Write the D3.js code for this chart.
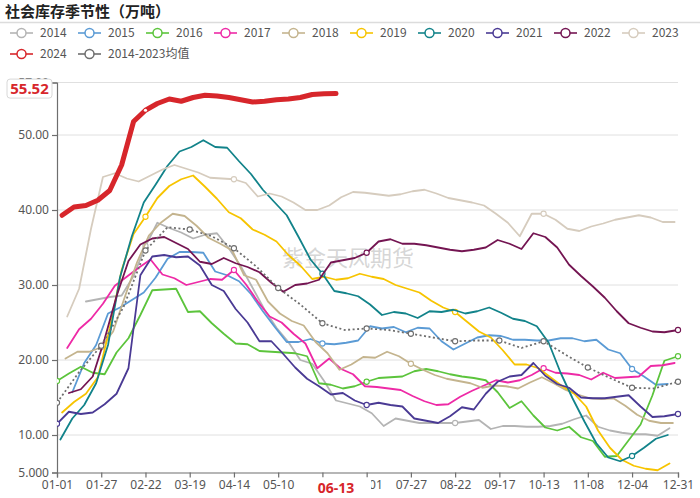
<!DOCTYPE html>
<html><head><meta charset="utf-8">
<script src="https://cdn.jsdelivr.net/npm/d3@7"></script>
<style>
body{margin:0;background:#fff;}
svg{display:block;font-family:"Noto Sans","Noto Sans CJK SC",sans-serif;}
</style></head><body>
<svg id="chart" width="700" height="498"></svg>
<script>
// ---------------- data ----------------
const chartTitle = "社会库存季节性（万吨）";
const watermark = "紫金天风期货";
const seriesNames = ["2014","2015","2016","2017","2018","2019","2020","2021","2022","2023","2024","2014-2023均值"];
const seriesColors = ["#b4b4b4","#5b9bd5","#5cc43c","#ee2aa6","#c4b48e","#f7c400","#12838a","#4a3a94","#741552","#d6ccbe","#d7262b","#6e6e6e"];
const startDates = ["01-18","01-10","01-01","01-07","01-06","01-04","01-03","01-01","01-08","01-07","01-04","01-01"];
const endDates   = [null,null,"12-31",null,null,null,null,"12-31","12-31",null,null,"12-31"];
const stepDays   = [7,7,7,7,7,7,7,7,7,7,7,13];

const v2014 = [27.8,28.1,28.4,28.6,31.2,35.2,38.3,37.6,37.0,36.2,36.7,36.9,34.9,32.5,29.6,26.7,24.3,22.4,20.0,19.5,17.2,14.6,14.2,13.8,12.9,11.2,12.2,11.9,11.6,11.6,11.6,11.6,11.8,12.0,10.8,11.2,11.2,11.1,11.1,11.2,11.5,12.1,12.6,11.1,10.6,10.3,10.1,10.1,9.9,10.9];
const v2015 = [15.7,19.6,22.0,26.2,27.0,28.0,29.0,31.0,33.5,34.4,34.4,34.3,31.8,31.3,30.5,28.8,26.5,24.4,22.4,22.4,22.8,22.2,22.1,22.3,22.6,24.5,24.2,24.4,23.7,24.3,24.2,22.5,21.4,22.2,23.0,23.3,23.2,22.7,22.7,22.6,22.6,22.9,22.9,22.5,22.7,21.4,20.9,18.8,17.8,16.7,16.8];
const v2016 = [17.2,18.2,19.1,18.3,18.1,21.0,22.9,26.0,29.3,29.4,29.5,26.4,26.5,24.9,23.5,22.2,22.1,21.2,21.1,21.0,20.9,20.5,16.9,16.7,16.2,16.5,17.1,17.6,17.7,17.8,18.5,18.8,18.5,18.1,17.8,17.6,17.3,15.7,13.6,14.5,12.6,11.0,10.6,11.1,9.7,9.2,7.1,7.2,9.3,11.4,15.3,19.9,20.5];
const v2017 = [21.6,24.1,25.5,27.5,29.9,31.1,32.3,33.4,31.4,30.9,30.0,30.4,30.8,30.7,32.0,30.1,27.8,25.8,25.0,23.5,22.2,18.9,20.2,18.8,18.1,16.5,16.4,16.2,16.0,15.2,14.5,14.0,14.1,15.1,15.9,16.6,17.3,17.0,17.3,18.0,18.9,18.3,18.2,18.0,17.4,18.3,17.6,17.7,17.8,19.2,19.3,19.6];
const v2018 = [20.2,21.1,21.1,21.7,23.8,28.5,33.0,36.6,38.3,39.5,39.2,37.9,36.3,35.5,34.6,31.3,30.7,27.8,26.2,25.2,24.6,22.4,20.9,18.7,19.4,20.4,20.3,21.1,20.5,19.5,18.7,18.0,17.5,17.2,16.9,16.3,16.6,16.5,16.2,17.0,17.7,16.9,16.0,15.4,14.9,14.8,14.9,13.9,12.7,11.9,11.6,11.6];
const v2019 = [13.0,14.4,15.5,17.7,24.2,32.0,36.8,39.1,41.6,43.2,44.1,44.6,43.1,41.5,39.7,38.9,37.4,36.7,35.8,34.0,32.6,30.8,31.1,30.7,30.9,31.5,31.1,30.8,30.0,29.5,29.0,27.9,27.0,26.4,25.1,23.8,23.0,21.3,19.4,19.4,18.9,17.7,16.5,15.5,13.8,10.6,8.3,6.7,5.9,5.5,5.3,6.2];
const v2020 = [9.4,12.2,14.0,16.9,22.0,31.0,36.5,41.0,43.4,45.9,47.8,48.4,49.3,48.4,48.3,46.5,44.8,42.7,41.0,39.3,36.4,33.4,31.5,29.2,28.9,28.5,27.4,26.0,26.4,26.2,25.6,26.5,26.4,26.7,26.2,26.5,27.0,26.3,25.5,25.2,24.5,22.3,18.3,14.9,11.8,8.9,7.0,6.5,7.2,8.3,9.5,10.0];
const v2021 = [11.5,13.1,12.8,13.0,14.1,15.5,18.9,31.3,33.8,34.0,33.7,33.8,32.6,30.0,29.2,26.8,25.0,22.5,22.5,20.8,19.0,17.5,16.5,15.4,15.6,14.6,14.0,14.3,14.0,13.8,12.2,11.9,11.6,12.5,13.7,13.4,15.5,17.1,17.8,18.0,19.6,17.9,16.8,16.3,15.0,14.9,14.9,15.1,15.3,13.8,12.4,12.5,12.8];
const v2022 = [15.6,16.1,17.8,22.8,28.5,33.2,35.4,36.2,36.4,35.6,34.8,33.1,32.8,33.6,32.9,32.4,31.7,30.3,29.1,30.0,30.2,30.7,33.0,33.3,33.6,34.3,35.8,36.1,35.5,35.5,35.3,35.0,34.7,34.5,34.7,35.0,36.0,35.5,34.8,36.9,36.4,35.0,32.7,31.2,29.8,28.3,26.5,24.9,24.3,23.8,23.7,24.0];
const v2023 = [25.8,29.5,37.5,44.4,44.9,44.2,43.8,44.6,45.4,46.0,45.5,45.0,44.3,44.2,44.1,43.6,41.8,42.2,41.8,41.0,40.0,40.0,40.6,41.7,42.4,42.3,42.1,41.9,42.1,42.5,42.7,42.2,41.6,41.3,41.0,40.6,39.5,38.3,36.5,39.5,39.5,38.7,37.5,37.2,37.8,38.2,38.7,39.0,39.3,39.0,38.4,38.4];
const v2024 = [39.3,40.4,40.6,41.3,42.6,46.0,51.8,53.3,54.2,54.8,54.5,55.0,55.3,55.2,55.0,54.7,54.4,54.5,54.7,54.8,55.0,55.4,55.5,55.52];
const vAvg  = [14.3,18.4,21.9,27.0,34.6,37.7,37.4,36.5,34.9,32.5,29.6,27.4,24.9,24.0,24.2,24.0,23.5,23.0,22.5,22.6,22.6,21.6,22.5,20.7,19.0,17.6,16.3,16.2,17.1];
const seriesValues = [v2014,v2015,v2016,v2017,v2018,v2019,v2020,v2021,v2022,v2023,v2024,vAvg];

const xTickLabels = ["01-01","01-27","02-22","03-19","04-14","05-10","06-05","07-01","07-27","08-22","09-17","10-13","11-08","12-04","12-31"];
const yTickValues = [5,10,20,30,40,50,57];
const currentDate = "06-13";
const currentValue = 55.52;

// ---------------- helpers ----------------
const YEAR = 2024;
const md = s => { const [m,d] = s.split("-").map(Number); return new Date(YEAR, m-1, d); };
const fmtMD = d3.timeFormat("%m-%d");

const svg = d3.select("#chart");
const W = 700, H = 498;
const plot = {left:57, right:678, top:82.5, bottom:472.5};

const x = d3.scaleTime().domain([md("01-01"), md("12-31")]).range([plot.left, plot.right]);
const y = d3.scaleLinear().domain([5,57]).range([plot.bottom, plot.top]);

// title
svg.append("text").attr("x",5).attr("y",17)
  .attr("font-family","'Noto Sans CJK SC',sans-serif")
  .attr("font-size",15).attr("font-weight","bold").attr("fill","#222").text(chartTitle);
svg.append("line").attr("x1",0).attr("x2",W).attr("y1",22.5).attr("y2",22.5)
  .attr("stroke","#dcdcdc").attr("stroke-width",1.5);

// legend
const legend = svg.append("g");
seriesNames.forEach((name,i)=>{
  const row = i < 10 ? 0 : 1;
  const col = i < 10 ? i : i-10;
  const gx = 10 + col*68, gy = row===0 ? 33 : 54;
  const g = legend.append("g").attr("transform",`translate(${gx},${gy})`);
  g.append("line").attr("x1",0).attr("x2",23).attr("y1",0).attr("y2",0)
    .attr("stroke",seriesColors[i]).attr("stroke-width",1.6);
  g.append("circle").attr("cx",11.5).attr("cy",0).attr("r",4.5)
    .attr("fill","#fff").attr("stroke",seriesColors[i]).attr("stroke-width",1.5);
  g.append("text").attr("x",30).attr("y",4.2).attr("font-size",12)
    .attr("font-family","'Noto Sans CJK SC','Noto Sans',sans-serif")
    .attr("fill","#555").text(name);
});

// grid lines
svg.append("g").selectAll("line").data(yTickValues.filter(v=>v!==5)).join("line")
  .attr("x1",plot.left).attr("x2",plot.right)
  .attr("y1",d=>y(d)).attr("y2",d=>y(d))
  .attr("stroke","#e0e0e0").attr("stroke-width",1);

// watermark
svg.append("text").attr("x",348).attr("y",266).attr("text-anchor","middle")
  .attr("font-family","'Noto Sans CJK SC',sans-serif")
  .attr("font-size",22).attr("fill","#cfcfcf").attr("fill-opacity",0.85).text(watermark);

// axes
const tickDates = xTickLabels.map(md);
const curX = x(md(currentDate));
const xAxis = d3.axisBottom(x).tickValues(tickDates).tickSize(5).tickPadding(3)
  .tickFormat(d => Math.abs(x(d)-curX) < 20 ? "" : fmtMD(d));
const gx = svg.append("g").attr("transform",`translate(0,${plot.bottom})`).call(xAxis);
gx.select(".domain").attr("stroke","#6e6e6e").attr("stroke-width",1.2);
gx.selectAll(".tick line").attr("stroke","#6e6e6e").attr("stroke-width",1.2);
gx.selectAll(".tick text").attr("fill","#555").attr("font-size",12)
  .attr("font-family","'Noto Sans',sans-serif");

const yAxis = d3.axisLeft(y).tickValues(yTickValues).tickSize(5).tickPadding(3)
  .tickFormat(d=>d.toPrecision(4));
const gy = svg.append("g").attr("transform",`translate(${plot.left},0)`).call(yAxis);
gy.select(".domain").attr("stroke","#6e6e6e").attr("stroke-width",1.2);
gy.selectAll(".tick line").attr("stroke","#6e6e6e").attr("stroke-width",1.2);
gy.selectAll(".tick text").attr("fill","#555").attr("font-size",12)
  .attr("font-family","'Noto Sans',sans-serif");

// series
const tickDayKeys = new Set(xTickLabels);
svg.append("defs").append("clipPath").attr("id","clip")
  .append("rect").attr("x",plot.left).attr("y",plot.top-6).attr("width",plot.right-plot.left+6).attr("height",plot.bottom-plot.top+6);

const linesG = svg.append("g").attr("clip-path","url(#clip)");
d3.range(seriesNames.length).forEach(i=>{
  const vals = seriesValues[i];
  const start = md(startDates[i]);
  const pts = vals.map((v,k)=>{
    let date = d3.timeDay.offset(start, k*stepDays[i]);
    if (k===vals.length-1 && endDates[i]) date = md(endDates[i]);
    return {date, v};
  });
  const isAvg = i===seriesNames.length-1;
  const isCur = i===seriesNames.length-2;
  const line = d3.line().x(d=>x(d.date)).y(d=>y(d.v));
  linesG.append("path").datum(pts)
    .attr("d",line).attr("fill","none")
    .attr("stroke",seriesColors[i])
    .attr("stroke-width", isCur ? 5 : 1.8)
    .attr("stroke-linejoin","round")
    .attr("stroke-linecap", isAvg ? "butt" : "round")
    .attr("stroke-dasharray", isAvg ? "2,2.5" : null);
  const mk = linesG.append("g").selectAll("circle")
    .data(pts.filter(p=>tickDayKeys.has(fmtMD(p.date))))
    .join("circle")
    .attr("cx",d=>x(d.date)).attr("cy",d=>y(d.v))
    .attr("fill","#fff");
  if (isCur) mk.attr("r",1.6).attr("stroke","none");
  else mk.attr("r",2.6).attr("stroke",seriesColors[i]).attr("stroke-width",1.1);
});

// current value label on y axis
const red = "#d7262b";
const lblY = y(currentValue) - 5;
svg.append("rect").attr("x",7).attr("y",lblY-9.5).attr("width",45).attr("height",19)
  .attr("rx",3).attr("fill","#fff").attr("stroke","#d8d8d8");
svg.append("text").attr("x",29.5).attr("y",lblY+5).attr("text-anchor","middle")
  .attr("font-size",15).attr("font-weight","bold").attr("fill",red)
  .attr("font-family","'Noto Sans',sans-serif").text(currentValue.toFixed(2));

// current date label on x axis
svg.append("rect").attr("x",curX-31).attr("y",plot.bottom+5).attr("width",66).attr("height",20)
  .attr("fill","#fff");
svg.append("text").attr("x",curX).attr("y",plot.bottom+20).attr("text-anchor","middle")
  .attr("font-size",14).attr("font-weight","bold").attr("fill",red)
  .attr("font-family","'Noto Sans',sans-serif").text(currentDate);
</script>
</body></html>
